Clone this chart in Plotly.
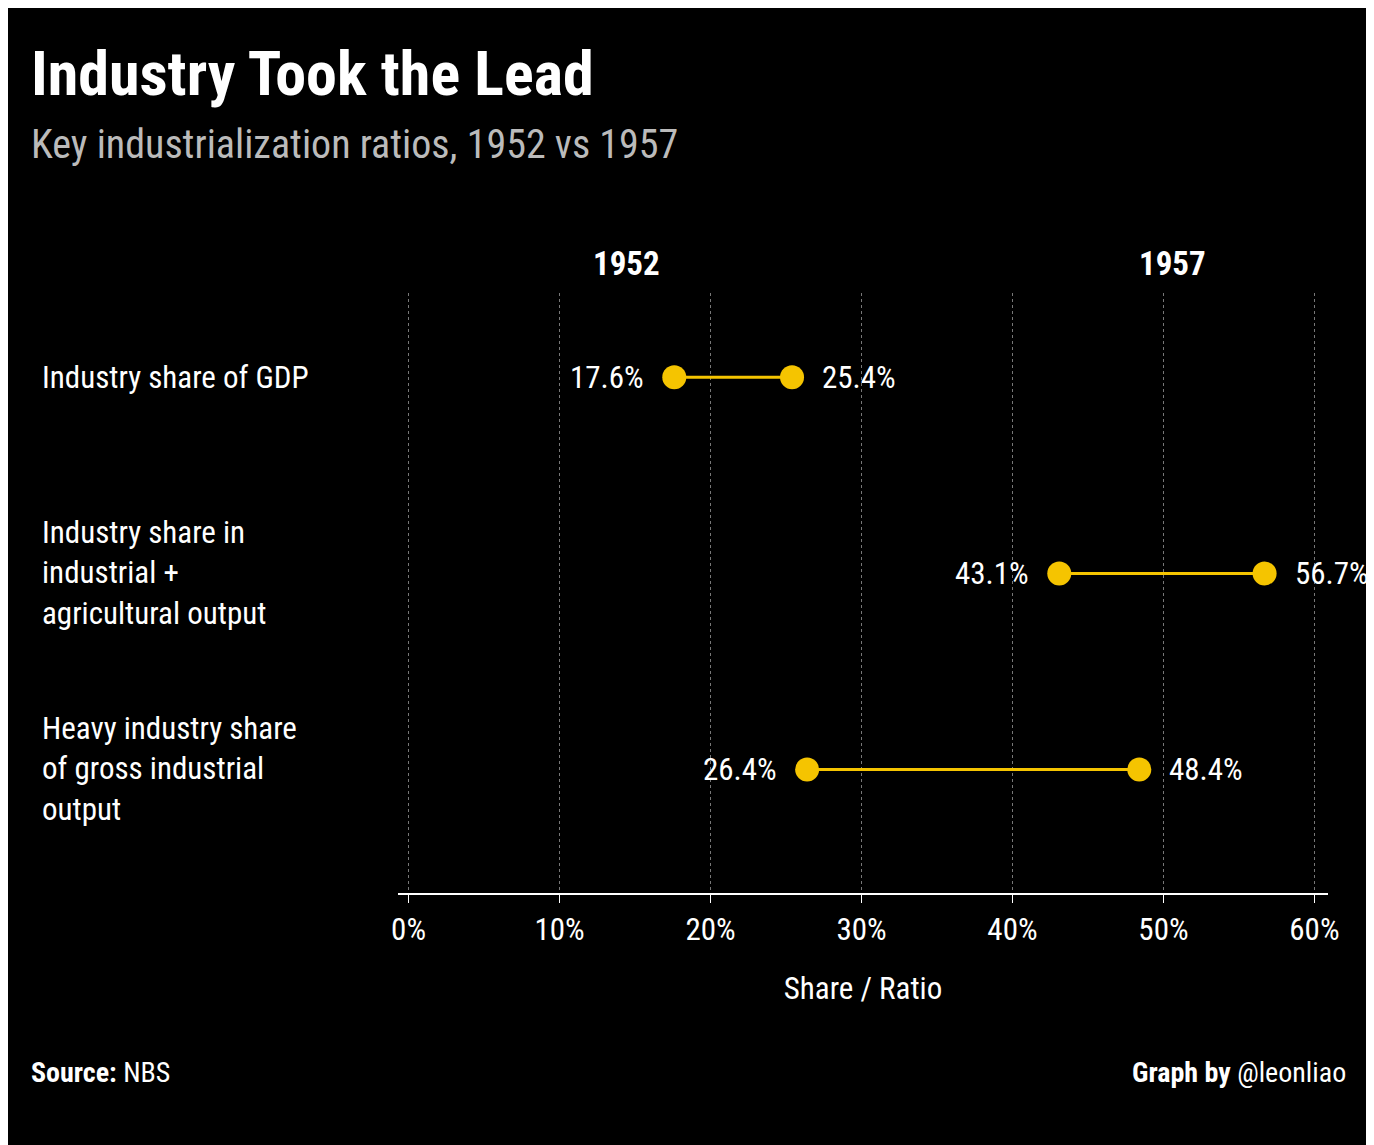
import plotly.graph_objects as go

categories = ["Industry share of GDP",
              "Industry share in<br>industrial +<br>agricultural output",
              "Heavy industry share<br>of gross industrial<br>output"]
v1952 = [17.6, 43.1, 26.4]
v1957 = [25.4, 56.7, 48.4]
ticks = [0, 10, 20, 30, 40, 50, 60]

FONT = "Roboto Condensed, Liberation Sans Narrow, Roboto, sans-serif"
GOLD = "#f5c400"
ys = list(range(len(categories)))

fig = go.Figure()
for i in ys:
    fig.add_trace(go.Scatter(
        x=[v1952[i], v1957[i]], y=[i, i], mode="lines+markers",
        line=dict(color=GOLD, width=3), marker=dict(color=GOLD, size=24),
        showlegend=False, hoverinfo="skip"))
    fig.add_annotation(x=v1952[i], y=i, text=f"{v1952[i]}%", showarrow=False,
                       xanchor="right", xshift=-28, font=dict(size=31, color="white", family=FONT))
    fig.add_annotation(x=v1957[i], y=i, text=f"{v1957[i]}%", showarrow=False,
                       xanchor="left", xshift=28, font=dict(size=31, color="white", family=FONT))
    fig.add_annotation(xref="paper", x=-0.385, y=i, text=categories[i], showarrow=False,
                       xanchor="left", align="left", font=dict(size=31, color="white", family=FONT))

fig.add_annotation(xref="paper", yref="paper", x=(583 - 390) / 930, y=1.085, text="<b>1952</b>",
                   showarrow=False, font=dict(size=33, color="white", family=FONT))
fig.add_annotation(xref="paper", yref="paper", x=(1200 - 390) / 930, y=1.085, text="<b>1957</b>",
                   showarrow=False, font=dict(size=33, color="white", family=FONT))

fig.add_annotation(xref="paper", yref="paper", x=-0.397, y=1.43, xanchor="left", yanchor="top",
                   text="<b>Industry Took the Lead</b>", showarrow=False,
                   font=dict(size=62, color="white", family=FONT))
fig.add_annotation(xref="paper", yref="paper", x=-0.397, y=1.29, xanchor="left", yanchor="top",
                   text="Key industrialization ratios, 1952 vs 1957", showarrow=False,
                   font=dict(size=40, color="#bbbbbb", family=FONT))

fig.update_layout(
    width=1374, height=1145, paper_bgcolor="black", plot_bgcolor="black",
    margin=dict(l=390, r=54, t=285, b=260),
    font=dict(family=FONT, color="white"),
    xaxis=dict(range=[-0.7, 60.9], tickvals=ticks, ticktext=[f"{t}%" for t in ticks],
               showgrid=True, gridcolor="#777777", griddash="dot", gridwidth=1, zeroline=False,
               showline=True, linecolor="white", linewidth=2, ticks="outside", tickcolor="white",
               ticklen=8, tickfont=dict(size=31, color="white"),
               title=dict(text="Share / Ratio", font=dict(size=31, color="white"), standoff=30)),
    yaxis=dict(range=[2.63, -0.43], visible=False),
)
fig.add_annotation(xref="paper", yref="paper", x=-0.397, y=-0.33, xanchor="left",
                   text="<b>Source:</b> NBS", showarrow=False, font=dict(size=28, color="white", family=FONT))
fig.add_annotation(xref="paper", yref="paper", x=1.022, y=-0.33, xanchor="right",
                   text="<b>Graph by</b> @leonliao", showarrow=False, font=dict(size=28, color="white", family=FONT))

fig.write_html("out.html")
